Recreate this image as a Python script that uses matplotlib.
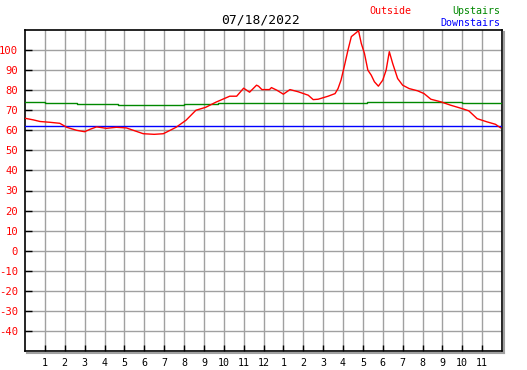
import matplotlib
matplotlib.use("Agg")
import matplotlib.pyplot as plt
from matplotlib.lines import Line2D

title = "07/18/2022"
series_names = ["Outside", "Upstairs", "Downstairs"]

out_hours = [0.0, 0.42, 0.75, 1.25, 1.75, 2.1, 2.6, 3.0, 3.27, 3.6, 4.1, 4.6, 5.1, 5.45,
             5.95, 6.5, 6.96, 7.1, 7.6, 8.1, 8.6, 9.1, 9.6, 10.3, 10.65, 11.0, 11.3, 11.65,
             11.75, 11.92, 12.1, 12.3, 12.4, 12.67, 13.0, 13.33, 13.75, 14.25, 14.5, 14.75,
             15.25, 15.6, 15.75, 15.9, 16.08, 16.25, 16.42, 16.67, 16.78, 16.92, 17.08,
             17.25, 17.42, 17.58, 17.78, 18.0, 18.17, 18.33, 18.5, 18.75, 19.0, 19.33,
             19.75, 20.08, 20.42, 20.92, 21.42, 22.0, 22.33, 22.75, 23.25, 23.67, 23.92]
out_temps = [66, 65.2, 64.4, 64, 63.5, 61.5, 60, 59.3, 60.5, 61.7, 61, 61.5, 61.2, 60,
             58.3, 58, 58.3, 59, 61.5, 65, 70, 71.5, 74, 77, 77, 81, 79, 82.5,
             82, 80.3, 80.3, 80.3, 81.3, 80, 78, 80.3, 79.2, 77.5, 75.3, 75.5,
             77, 78.3, 80.8, 85, 92.5, 100, 106.7, 108.7, 109.7, 103.3, 98.3,
             90, 87.5, 84.2, 82, 85, 90, 99.2, 93.3, 85.8, 82.5, 80.8,
             79.7, 78.3, 75.5, 74.2, 72.5, 70.8, 69.7, 65.8, 64.2, 63, 61.3]

up_hours = [0.0, 1.0, 1.0, 2.6, 2.6, 4.7, 4.7, 8.0, 8.0, 9.7, 9.7, 17.2, 17.2, 22.0, 22.0, 24.0]
up_temps = [74, 74, 73.5, 73.5, 73, 73, 72.5, 72.5, 73, 73, 73.5, 73.5, 74, 74, 73.5, 73.5]

down_hours = [0.0, 8.7, 8.7, 24.0]
down_temps = [62, 62, 62.3, 62.3]

x_ticks = list(range(1, 24))
x_labels = [str(h) for h in range(1, 13)] + [str(h) for h in range(1, 12)]
y_ticks = list(range(-40, 101, 10))

W, H = 527, 370
fig = plt.figure(figsize=(W / 100, H / 100), dpi=100)
L, R, T, B = 25, 502, 30, 351
ax = fig.add_axes([L / W, (H - B) / H, (R - L) / W, (B - T) / H])
ax.set_xlim(0, 24)
ax.set_ylim(-50, 110)

mono = "DejaVu Sans Mono"
for h in range(1, 24):
    ax.axvline(h, color="#a0a0a0", lw=1.0, zorder=1)
for v in range(-40, 101, 10):
    ax.axhline(v, color="#a0a0a0", lw=1.0, zorder=1)

ax.plot(up_hours, up_temps, color="#008800", lw=1.0, zorder=3)
ax.plot(down_hours, down_temps, color="#0000ff", lw=1.0, zorder=3)
ax.plot(out_hours, out_temps, color="#ff0000", lw=1.0, zorder=4)

ax.set_xticks(x_ticks)
ax.set_xticklabels(x_labels, fontfamily=mono, fontsize=7.2, color="black")
ax.set_yticks(y_ticks)
ax.set_yticklabels([str(v) for v in y_ticks], fontfamily=mono, fontsize=7.6, color="red")
ax.tick_params(axis="x", direction="in", length=4, width=1, color="black", pad=5)
ax.tick_params(axis="y", direction="in", length=5, width=1, color="black", pad=5)
for s in ax.spines.values():
    s.set_color("black")
    s.set_linewidth(1.2)

# drop shadow on right and bottom
sh = "#a0a0a0"
fig.add_artist(Line2D([(R + 2) / W, (R + 2) / W], [(H - B - 2) / H, (H - T - 2) / H],
                      color=sh, lw=1.5, transform=fig.transFigure))
fig.add_artist(Line2D([(L + 2) / W, (R + 2) / W], [(H - B - 2) / H, (H - B - 2) / H],
                      color=sh, lw=1.5, transform=fig.transFigure))

fig.text(261 / W, 1 - 20 / H, title, ha="center", va="center", fontfamily=mono, fontsize=9.4)
fig.text(390 / W, 1 - 11 / H, series_names[0], ha="center", va="center", fontfamily=mono,
         fontsize=7.2, color="red")
fig.text(500 / W, 1 - 11 / H, series_names[1], ha="right", va="center", fontfamily=mono,
         fontsize=7.2, color="#008800")
fig.text(500 / W, 1 - 23 / H, series_names[2], ha="right", va="center", fontfamily=mono,
         fontsize=7.2, color="#0000ff")

fig.savefig("out.png", dpi=100)
